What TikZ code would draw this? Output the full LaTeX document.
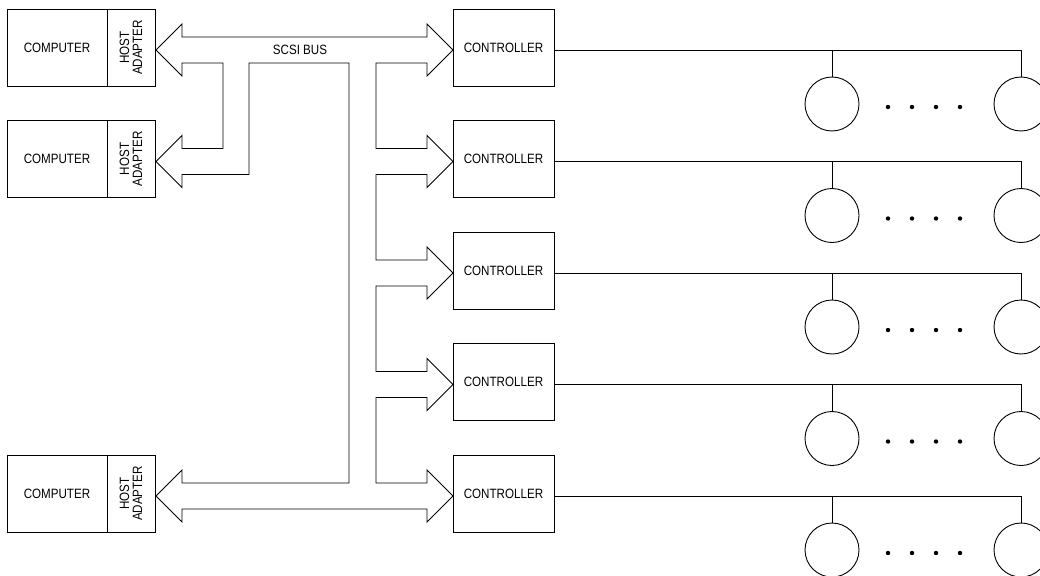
\documentclass[tikz,border=0pt]{standalone}
\usepackage{fontspec}
\setmainfont{Liberation Sans}[FakeStretch=0.86]
\begin{document}
\begin{tikzpicture}[x=1pt,y=-1pt,line width=0.9pt,
  lbl/.style={font=\fontsize{13.5}{13}\selectfont},
  compbox/.style={draw,lbl,minimum width=100pt,minimum height=77pt,inner sep=0pt},
  habox/.style={draw,lbl,rotate=90,minimum width=77pt,minimum height=48pt,inner sep=0pt,align=center},
  ctlbox/.style={draw,lbl,minimum width=101pt,minimum height=77pt,inner sep=0pt},
  disk/.style={draw,circle,minimum size=54pt,inner sep=0pt}]
\useasboundingbox (0,0) rectangle (1040,575);
% computers
\foreach \i/\r in {1/50,2/161.5,3/496}{
  \node[compbox] (comp\i) at (57,\r-2.5) {COMPUTER};
  \node[habox] (ha\i) at (131,\r-2.5) {HOST\\ADAPTER};
}
% controllers and disks
\foreach \i/\r in {1/50,2/161.5,3/273,4/384.5,5/496}{
  \node[ctlbox] (ctl\i) at (503.5,\r-2.5) {CONTROLLER};
  \coordinate (j\i) at (1021,\r);
  \node[disk] (da\i) at (832,\r+54) {};
  \node[disk] (db\i) at (1021,\r+54) {};
  \draw (ctl\i.east |- j\i) -- (j\i) -- (db\i.north);
  \draw (da\i.north) -- (da\i.north |- j\i);
  \foreach \x in {888,912,936,960} \fill (\x,\r+57) circle (2.2pt);
}
% SCSI bus outline
\draw[line join=miter]
  (182,63) -- (182,76) -- (156,50) -- (182,24) -- (182,37)
  -- (427,37) -- (427,24) -- (453,50) -- (427,76) -- (427,63)
  -- (376,63) -- (376,148.5) -- (427,148.5) -- (427,135.5) -- (453,161.5) -- (427,187.5) -- (427,174.5)
  -- (376,174.5) -- (376,260) -- (427,260) -- (427,247) -- (453,273) -- (427,299) -- (427,286)
  -- (376,286) -- (376,371.5) -- (427,371.5) -- (427,358.5) -- (453,384.5) -- (427,410.5) -- (427,397.5)
  -- (376,397.5) -- (376,483) -- (427,483) -- (427,470) -- (453,496) -- (427,522) -- (427,509)
  -- (182,509) -- (182,522) -- (156,496) -- (182,470) -- (182,483)
  -- (349,483) -- (349,63) -- (249,63) -- (249,174.5) -- (182,174.5)
  -- (182,187.5) -- (156,161.5) -- (182,135.5) -- (182,148.5)
  -- (223,148.5) -- (223,63) -- cycle;
\node[lbl] (bus) at (300,50) {SCSI BUS};
\end{tikzpicture}
\end{document}
